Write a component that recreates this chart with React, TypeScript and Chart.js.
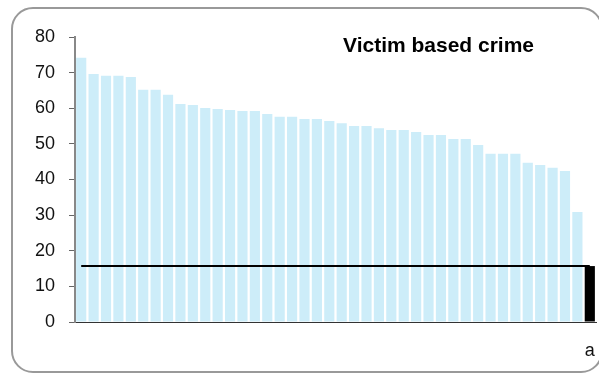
import React, { useEffect, useRef } from "react";
import { Chart, registerables } from "chart.js";

Chart.register(...registerables);

const FONT = '"Liberation Sans", Arial, Helvetica, sans-serif';

const chartTitle = "Victim based crime";
const categories: string[] = [...Array(41).fill(""), "a"];
const victimRates = [
  74.2, 69.6, 69.1, 69.1, 68.8, 65.2, 65.2, 63.8, 61.2, 60.9, 60.1, 59.8, 59.5, 59.2,
  59.2, 58.4, 57.6, 57.6, 57.0, 57.0, 56.4, 55.8, 55.0, 55.0, 54.4, 53.9, 53.9, 53.3,
  52.5, 52.5, 51.4, 51.4, 49.7, 47.2, 47.2, 47.2, 44.7, 44.1, 43.3, 42.4, 30.9,
];
const averageRate = 15.7;
const yTicks = [0, 10, 20, 30, 40, 50, 60, 70, 80];

const BAR_COLOR = "#CDEDF9";
const AVG_COLOR = "#000000";

export default function App() {
  const canvasRef = useRef<HTMLCanvasElement | null>(null);

  useEffect(() => {
    const canvas = canvasRef.current;
    if (!canvas) return;

    const barValues = [...victimRates, averageRate];
    const barColors = barValues.map((_, i) => (i === barValues.length - 1 ? AVG_COLOR : BAR_COLOR));
    const lineValues = categories.map(() => averageRate);

    const titlePlugin = {
      id: "innerTitle",
      afterDraw(chart: any) {
        const ctx = chart.ctx;
        ctx.save();
        ctx.font = `bold 21px ${FONT}`;
        ctx.fillStyle = "#000";
        ctx.textAlign = "left";
        ctx.textBaseline = "alphabetic";
        ctx.fillText(chartTitle, 343, 52);
        ctx.restore();
      },
    };

    const chart = new Chart(canvas, {
      type: "bar",
      data: {
        labels: categories,
        datasets: [
          {
            type: "line",
            label: "Average",
            data: lineValues,
            borderColor: "#000",
            borderWidth: 2,
            pointRadius: 0,
            fill: false,
            order: 0,
          } as any,
          {
            type: "bar",
            label: "Victim based crime",
            data: barValues,
            backgroundColor: barColors,
            borderWidth: 0,
            categoryPercentage: 1,
            barPercentage: 0.82,
            order: 1,
          },
        ],
      },
      options: {
        animation: false,
        responsive: false,
        maintainAspectRatio: false,
        devicePixelRatio: 1,
        layout: { padding: { top: 37, right: 3, left: 0, bottom: 0 } },
        plugins: {
          legend: { display: false },
          tooltip: { enabled: false },
          title: { display: false },
        },
        scales: {
          x: {
            offset: true,
            grid: { display: false, drawTicks: false },
            border: { display: true, color: "#333", width: 1 },
            ticks: {
              autoSkip: false,
              maxRotation: 0,
              minRotation: 0,
              padding: 18,
              color: "#111",
              font: { family: FONT, size: 18 },
            },
            afterFit: (s: any) => {
              s.height = 51;
              s.paddingLeft = 0;
              s.paddingRight = 0;
            },
          },
          y: {
            min: 0,
            max: 80,
            afterBuildTicks: (s: any) => {
              s.ticks = yTicks.map((v) => ({ value: v }));
            },
            grid: {
              display: true,
              drawOnChartArea: false,
              drawTicks: true,
              tickLength: 6,
              color: "#666",
              lineWidth: 1,
            },
            border: { display: true, color: "#888", width: 2 },
            ticks: {
              padding: 14,
              color: "#111",
              font: { family: FONT, size: 18 },
            },
            afterFit: (s: any) => {
              s.width = 75;
            },
          },
        },
      },
      plugins: [titlePlugin],
    });

    return () => {
      chart.destroy();
    };
  }, []);

  return (
    <div
      style={{
        position: "fixed",
        left: 0,
        top: 0,
        width: 599,
        height: 373,
        overflow: "hidden",
        background: "#fff",
      }}
    >
      <div
        style={{
          position: "absolute",
          left: 11,
          top: 7,
          width: 592,
          height: 366,
          boxSizing: "border-box",
          border: "2px solid #999",
          borderRadius: 22,
        }}
      />
      <canvas
        ref={canvasRef}
        width={599}
        height={373}
        style={{ position: "absolute", left: 0, top: 0, width: 599, height: 373 }}
      />
    </div>
  );
}
